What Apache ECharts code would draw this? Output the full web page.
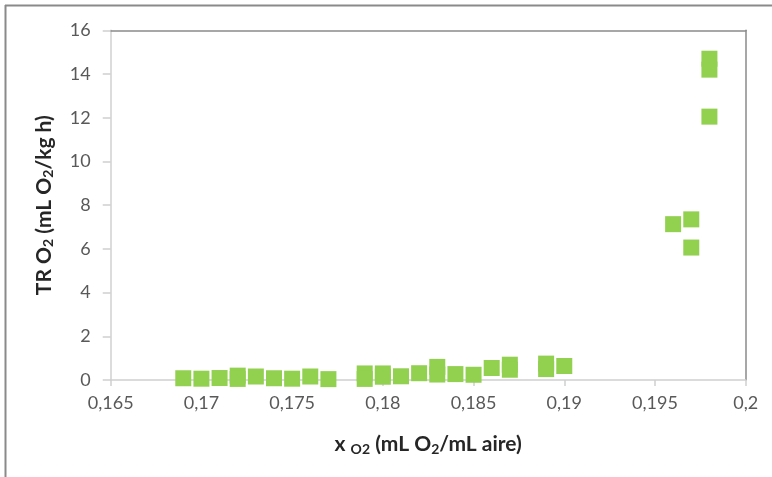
<!DOCTYPE html>
<html>
<head>
<meta charset="utf-8">
<script src="https://cdn.jsdelivr.net/npm/echarts@6/dist/echarts.min.js"></script>
<style>html,body{margin:0;padding:0;background:#fff}#c{width:772px;height:477px}</style>
</head>
<body>
<div id="c"></div>
<script>
var xValues = [0.169, 0.170, 0.171, 0.172, 0.172, 0.173, 0.174, 0.175, 0.176, 0.177, 0.179, 0.179, 0.180, 0.180, 0.181, 0.182, 0.183, 0.183, 0.184, 0.185, 0.186, 0.187, 0.187, 0.189, 0.189, 0.190, 0.196, 0.197, 0.197, 0.198, 0.198, 0.198];
var yValues = [0.08, 0.06, 0.09, 0.20, 0.05, 0.16, 0.08, 0.06, 0.16, 0.04, 0.30, 0.05, 0.30, 0.15, 0.17, 0.31, 0.60, 0.25, 0.27, 0.24, 0.55, 0.70, 0.47, 0.75, 0.50, 0.64, 7.13, 7.35, 6.06, 14.70, 14.20, 12.05];
var xTicks = [0.165, 0.17, 0.175, 0.18, 0.185, 0.19, 0.195, 0.2];
var yTicks = [0, 2, 4, 6, 8, 10, 12, 14, 16];

var points = xValues.map(function (x, i) { return [x, yValues[i]]; });
var font = 'Lato, "Liberation Sans", sans-serif';
var chart = echarts.init(document.getElementById('c'), null, {renderer: 'canvas'});
chart.setOption({
  animation: false,
  backgroundColor: '#ffffff',
  grid: {left: 110.7, right: 26.3, top: 30.3, bottom: 97, containLabel: false},
  graphic: [
    {type: 'line', shape: {x1: 5.5, y1: 5, x2: 5.5, y2: 477}, style: {stroke: '#8a8a8a', lineWidth: 2}},
    {type: 'line', shape: {x1: 5, y1: 5.5, x2: 772, y2: 5.5}, style: {stroke: '#8a8a8a', lineWidth: 2}}
  ],
  xAxis: [{
    type: 'value', min: xTicks[0], max: xTicks[xTicks.length - 1], interval: 0.005,
    axisLine: {show: true, onZero: false, lineStyle: {color: '#d0d0d0', width: 1.5}},
    axisTick: {show: true, length: 6, lineStyle: {color: '#d0d0d0', width: 1.5}},
    splitLine: {show: false},
    axisLabel: {margin: 14, color: '#595959', fontFamily: font, fontSize: 18,
      formatter: function (v) { return String(+v.toFixed(3)).replace('.', ','); }},
    name: '{a|x }{s|O2}{a| (mL O}{t|2}{a|/mL aire)}',
    nameLocation: 'middle', nameGap: 53,
    nameTextStyle: {
      rich: {
        a: {fontFamily: font, fontWeight: 'bold', fontSize: 21, color: '#262626'},
        s: {fontFamily: font, fontWeight: 'bold', fontSize: 14, color: '#262626', padding: [9, 0, 0, 0]},
        t: {fontFamily: font, fontWeight: 'bold', fontSize: 14, color: '#262626', padding: [9, 0, 0, 0]}
      }
    }
  }, {
    type: 'value', position: 'top', min: xTicks[0], max: xTicks[xTicks.length - 1], interval: 0.005,
    axisLine: {show: true, onZero: false, lineStyle: {color: '#8a8a8a', width: 1.5}},
    axisTick: {show: false}, axisLabel: {show: false}, splitLine: {show: false}
  }],
  yAxis: [{
    type: 'value', min: yTicks[0], max: yTicks[yTicks.length - 1], interval: 2,
    axisLine: {show: true, onZero: false, lineStyle: {color: '#d0d0d0', width: 1.5}},
    axisTick: {show: true, length: 8, lineStyle: {color: '#d0d0d0', width: 1.5}},
    splitLine: {show: false},
    axisLabel: {margin: 20, color: '#595959', fontFamily: font, fontSize: 18},
    name: '{a|TR O}{s|2}{a| (mL O}{s|2}{a|/kg h)}',
    nameLocation: 'middle', nameGap: 55, nameRotate: 90,
    nameTextStyle: {
      rich: {
        a: {fontFamily: font, fontWeight: 'bold', fontSize: 21, color: '#262626'},
        s: {fontFamily: font, fontWeight: 'bold', fontSize: 14, color: '#262626', padding: [9, 0, 0, 0]}
      }
    }
  }, {
    type: 'value', position: 'right', min: yTicks[0], max: yTicks[yTicks.length - 1], interval: 2,
    axisLine: {show: true, onZero: false, lineStyle: {color: '#8a8a8a', width: 1.5}},
    axisTick: {show: false}, axisLabel: {show: false}, splitLine: {show: false}
  }],
  series: [{
    type: 'scatter',
    xAxisIndex: 0, yAxisIndex: 0,
    data: points,
    symbol: 'rect',
    symbolSize: 16,
    itemStyle: {color: '#92D050', borderWidth: 0, opacity: 1}
  }]
});
</script>
</body>
</html>
